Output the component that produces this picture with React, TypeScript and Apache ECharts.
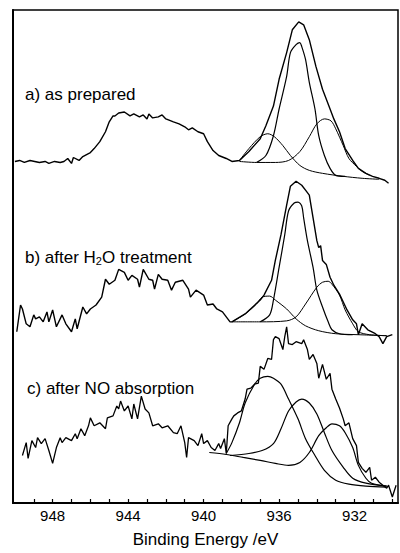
import React, { useEffect, useRef } from "react";
import * as echarts from "echarts";

// Binding energy (eV) vs intensity (arb. units, spectra stacked with offsets)
const tickValues = [930, 931, 932, 933, 934, 935, 936, 937, 938, 939, 940, 941, 942, 943, 944, 945, 946, 947, 948, 949];
const labelValues = [932, 936, 940, 944, 948];

// a) as prepared
const aData = [
  [950.0, 345], [949.75, 346], [949.5, 344], [949.2, 346], [948.95, 345], [948.7, 344], [948.4, 345], [948.2, 343],
  [947.9, 345], [947.6, 344], [947.4, 345], [947.2, 348], [947.0, 343], [946.9, 349], [946.6, 346], [946.4, 350],
  [946.3, 351], [946.0, 354], [945.8, 358], [945.5, 365], [945.2, 375], [945.0, 385], [944.8, 391], [944.7, 391],
  [944.5, 394], [944.2, 395], [943.9, 391], [943.7, 393], [943.4, 390], [943.2, 392], [943.0, 388], [942.9, 393],
  [942.7, 389], [942.4, 390], [942.2, 392], [942.0, 388], [941.6, 385], [941.3, 383], [941.0, 380], [940.8, 377],
  [940.6, 379], [940.3, 375], [940.0, 373], [939.8, 365], [939.5, 356], [939.2, 351], [938.8, 348], [938.5, 345],
  [938.1, 346], [937.6, 355], [937.0, 368], [936.7, 381], [936.3, 401], [936.0, 428], [935.6, 455], [935.3, 478],
  [934.96, 486], [934.7, 483], [934.4, 468], [934.05, 441], [933.7, 418], [933.3, 398], [933.1, 388], [932.8, 375],
  [932.5, 358], [932.1, 346], [931.8, 338], [931.4, 333], [931.05, 330], [930.7, 328], [930.4, 326], [930.2, 323],
];
const aMain = [
  [937.2, 344], [936.7, 351], [936.3, 371], [936.0, 398], [935.6, 431], [935.4, 455], [935.1, 463], [934.9, 465],
  [934.8, 461], [934.6, 448], [934.4, 425], [934.1, 398], [933.9, 371], [933.6, 351], [933.3, 338], [933.0, 331],
  [932.5, 330],
];
const aLeft = [
  [938.1, 346], [937.6, 358], [937.0, 370], [936.6, 373], [936.25, 370], [935.8, 361], [935.4, 351], [934.9, 341],
  [934.4, 336], [933.7, 333], [932.6, 330], [931.6, 328], [930.7, 327],
];
const aRight = [
  [938.1, 345], [937.2, 344], [936.2, 344], [935.5, 346], [934.9, 355], [934.4, 370], [934.0, 383], [933.6, 388],
  [933.25, 386], [933.0, 378], [932.6, 361], [932.3, 348], [931.9, 340], [931.6, 335], [931.2, 331],
];

// b) after H2O treatment
const bData = [
  [949.9, 173], [949.7, 200], [949.6, 196], [949.4, 181], [949.2, 178], [949.0, 190], [948.9, 186], [948.7, 188],
  [948.5, 183], [948.3, 193], [948.2, 183], [948.0, 195], [947.8, 178], [947.5, 190], [947.3, 181], [947.0, 173],
  [946.8, 186], [946.7, 176], [946.4, 198], [946.2, 191], [946.0, 196], [945.7, 200], [945.4, 208], [945.2, 226],
  [945.0, 221], [944.7, 225], [944.5, 236], [944.2, 233], [944.0, 225], [943.8, 230], [943.5, 226], [943.4, 218],
  [943.2, 236], [942.9, 226], [942.7, 225], [942.6, 216], [942.4, 231], [942.2, 226], [941.9, 225], [941.7, 215],
  [941.5, 223], [941.1, 225], [940.8, 216], [940.7, 208], [940.4, 215], [940.0, 210], [939.8, 200], [939.5, 201],
  [939.3, 196], [939.0, 193], [938.6, 183], [938.5, 183], [937.8, 191], [937.0, 205], [936.8, 210], [936.4, 225],
  [936.2, 245], [935.9, 271], [935.6, 301], [935.4, 320], [935.1, 325], [934.8, 321], [934.6, 316], [934.4, 311],
  [934.2, 288], [934.0, 265], [933.9, 258], [933.8, 260], [933.7, 245], [933.5, 241], [933.3, 228], [933.1, 220],
  [932.8, 211], [932.6, 203], [932.4, 195], [932.1, 185], [931.9, 181], [931.8, 170], [931.6, 181], [931.3, 175],
  [930.9, 171], [930.7, 168], [930.5, 161], [930.3, 168], [930.0, 170],
];
const bMain = [
  [937.0, 183], [936.5, 190], [936.3, 205], [936.0, 238], [935.7, 271], [935.5, 295], [935.2, 303], [935.0, 304],
  [934.8, 300], [934.7, 288], [934.5, 265], [934.2, 238], [934.0, 215], [933.7, 198], [933.4, 183], [933.2, 175],
  [932.8, 171], [932.1, 170],
];
const bLeft = [
  [938.5, 183], [937.8, 191], [937.2, 201], [936.9, 208], [936.5, 209], [936.2, 205], [935.6, 196], [935.1, 186],
  [934.6, 179], [933.9, 174], [933.0, 171], [931.8, 170], [930.3, 169],
];
const bRight = [
  [938.5, 183], [937.0, 183], [935.6, 184], [935.1, 188], [934.6, 201], [934.0, 218], [933.7, 223], [933.4, 224],
  [933.2, 221], [932.8, 210], [932.5, 195], [932.1, 181], [931.8, 173], [931.2, 170], [930.3, 169],
];

// c) after NO absorption
const cData = [
  [949.6, 48], [949.4, 61], [949.3, 45], [949.1, 63], [948.9, 56], [948.8, 66], [948.6, 60], [948.4, 65],
  [948.2, 53], [948.0, 40], [947.8, 56], [947.6, 66], [947.5, 61], [947.3, 66], [947.0, 63], [946.8, 70],
  [946.7, 65], [946.5, 75], [946.3, 68], [946.1, 78], [946.0, 86], [945.8, 78], [945.5, 81], [945.2, 75],
  [945.1, 86], [944.8, 88], [944.6, 98], [944.5, 95], [944.4, 103], [944.2, 93], [944.0, 98], [943.8, 85],
  [943.7, 100], [943.5, 85], [943.3, 108], [943.1, 95], [942.9, 91], [942.7, 78], [942.4, 80], [942.2, 76],
  [941.9, 78], [941.6, 71], [941.4, 70], [941.2, 78], [941.0, 61], [940.9, 46], [940.8, 66], [940.5, 63],
  [940.3, 58], [940.1, 70], [940.0, 60], [939.8, 63], [939.6, 56], [939.4, 53], [939.2, 60], [939.1, 55],
  [938.9, 65], [938.8, 50], [938.7, 78], [938.5, 85], [938.4, 88], [938.2, 91], [938.0, 93], [937.8, 105],
  [937.7, 115], [937.5, 116], [937.3, 120], [937.1, 121], [937.0, 138], [936.8, 135], [936.6, 146], [936.4, 145],
  [936.3, 165], [936.2, 168], [936.0, 166], [935.8, 155], [935.7, 168], [935.6, 178], [935.5, 161], [935.3, 160],
  [935.1, 163], [934.8, 161], [934.7, 165], [934.5, 155], [934.4, 145], [934.2, 150], [934.0, 141], [933.9, 126],
  [933.7, 140], [933.5, 125], [933.3, 131], [933.2, 115], [933.0, 105], [932.8, 96], [932.6, 85], [932.5, 78],
  [932.3, 81], [932.1, 65], [931.9, 58], [931.8, 41], [931.6, 35], [931.4, 31], [931.2, 36], [931.1, 23],
  [930.9, 26], [930.7, 21], [930.5, 18], [930.3, 15], [930.2, 18], [930.0, 6], [929.8, 18],
];
const cLeft = [
  [938.8, 50], [938.5, 61], [938.1, 81], [937.8, 101], [937.3, 120], [937.0, 126], [936.6, 128], [936.3, 126],
  [935.9, 120], [935.5, 105], [935.0, 85], [934.6, 65], [934.1, 48], [933.6, 33], [933.0, 23], [932.3, 19],
  [931.4, 17], [930.3, 16],
];
const cMid = [
  [938.6, 48], [937.6, 50], [936.9, 53], [936.3, 60], [935.9, 75], [935.5, 93], [935.1, 102], [934.8, 105],
  [934.4, 101], [934.0, 90], [933.6, 71], [933.2, 53], [932.6, 36], [932.1, 25], [931.4, 20], [930.3, 17],
];
const cRight = [
  [939.7, 51], [938.8, 49], [937.9, 46], [937.0, 43], [936.2, 40], [935.5, 38], [934.9, 41], [934.4, 51],
  [933.9, 68], [933.5, 76], [933.2, 80], [932.8, 78], [932.5, 71], [932.1, 56], [931.8, 38], [931.4, 25],
  [931.1, 20], [930.3, 17],
];

const FONT = "'Liberation Sans', Arial, Helvetica, sans-serif";

function line(data: number[][], width: number, smooth: boolean | number) {
  return {
    type: "line",
    data,
    showSymbol: false,
    smooth,
    lineStyle: { color: "#000", width },
    silent: true,
  };
}

export default function App() {
  const ref = useRef<HTMLDivElement>(null);
  useEffect(() => {
    if (!ref.current) return;
    const chart = echarts.init(ref.current, null, { renderer: "svg" });
    chart.setOption({
      animation: false,
      backgroundColor: "#fff",
      grid: { left: 13, right: 2, top: 10, bottom: 45, show: true, borderColor: "#000", borderWidth: 1.5 },
      xAxis: {
        type: "value",
        min: 929.7,
        max: 950.1,
        inverse: true,
        name: "Binding Energy /eV",
        nameLocation: "middle",
        nameGap: 28,
        nameTextStyle: { fontFamily: FONT, fontSize: 17, color: "#000" },
        axisLine: { show: true, lineStyle: { color: "#000", width: 2 } },
        axisTick: { show: true, inside: true, length: 4, customValues: tickValues, lineStyle: { color: "#000", width: 1.2 } },
        axisLabel: { customValues: labelValues, margin: 5, fontFamily: FONT, fontSize: 15, color: "#000" },
        splitLine: { show: false },
      },
      yAxis: {
        type: "value",
        min: 0,
        max: 498,
        show: true,
        axisLine: { show: true, lineStyle: { color: "#000", width: 2 } },
        axisTick: { show: false },
        axisLabel: { show: false },
        splitLine: { show: false },
      },
      series: [
        line(aData, 1.4, false),
        line(aMain, 1.2, 0.3),
        line(aLeft, 1, 0.3),
        line(aRight, 1, 0.3),
        line(bData, 1.4, false),
        line(bMain, 1.2, 0.3),
        line(bLeft, 1, 0.3),
        line(bRight, 1, 0.3),
        line(cData, 1.3, false),
        line(cLeft, 1.2, 0.3),
        line(cMid, 1.2, 0.3),
        line(cRight, 1.2, 0.3),
      ],
      graphic: [
        { type: "text", left: 25, top: 86, style: { text: "a) as prepared", font: `17px ${FONT}`, fill: "#000" } },
        {
          type: "text",
          left: 25,
          top: 249,
          style: {
            text: "{n|b) after H}{s|2}{n|O treatment}",
            fill: "#000",
            rich: {
              n: { fontFamily: FONT, fontSize: 17, fill: "#000", lineHeight: 20, verticalAlign: "bottom" },
              s: { fontFamily: FONT, fontSize: 11, fill: "#000", lineHeight: 16, verticalAlign: "bottom" },
            },
          },
        },
        { type: "text", left: 27, top: 380, style: { text: "c) after NO absorption", font: `17px ${FONT}`, fill: "#000" } },
      ],
    });
    return () => chart.dispose();
  }, []);
  return <div ref={ref} style={{ position: "fixed", left: 0, top: 0, width: 400, height: 553 }} />;
}
